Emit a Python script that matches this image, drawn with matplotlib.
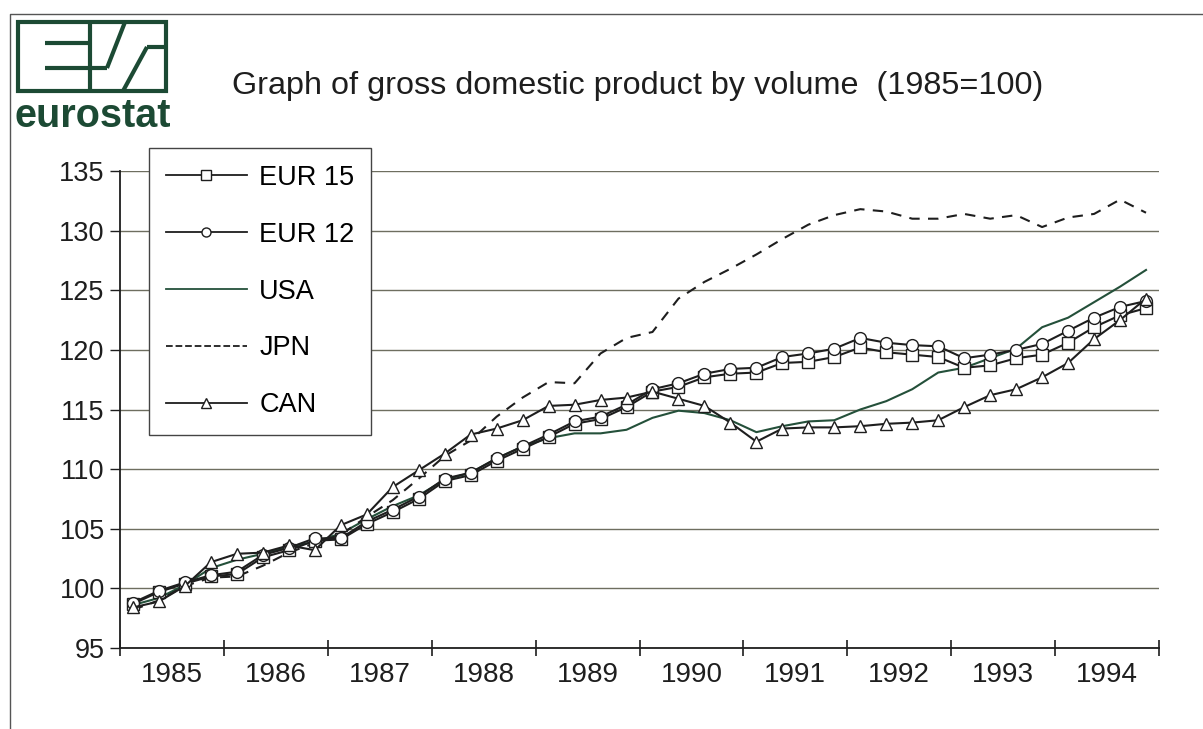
import numpy as np
import matplotlib
matplotlib.use("Agg")
import matplotlib.pyplot as plt
from matplotlib.lines import Line2D

# quarterly data, 1985 Q1 .. 1994 Q4 (index 1985=100)
years = [str(y) for y in range(1985, 1995)]
eur15 = [98.7, 99.7, 100.4, 101.0, 101.2, 102.6, 103.2, 104.0, 104.1, 105.4,
         106.4, 107.5, 109.0, 109.5, 110.7, 111.7, 112.7, 113.8, 114.2, 115.2,
         116.5, 116.9, 117.7, 118.0, 118.1, 118.9, 119.0, 119.4, 120.2, 119.8,
         119.6, 119.4, 118.5, 118.7, 119.3, 119.6, 120.6, 121.9, 122.9, 123.5]
eur12 = [98.8, 99.8, 100.5, 101.1, 101.4, 102.8, 103.4, 104.2, 104.2, 105.6,
         106.6, 107.7, 109.2, 109.7, 110.9, 111.9, 112.9, 114.0, 114.4, 115.4,
         116.7, 117.2, 118.0, 118.4, 118.5, 119.4, 119.7, 120.1, 121.0, 120.6,
         120.4, 120.3, 119.3, 119.6, 120.0, 120.5, 121.6, 122.7, 123.6, 124.1]
usa = [98.6, 99.2, 100.3, 101.7, 102.4, 102.9, 103.5, 103.9, 104.6, 105.8,
       106.9, 107.8, 109.1, 109.7, 110.9, 111.9, 112.6, 113.0, 113.0, 113.3,
       114.3, 114.9, 114.7, 114.1, 113.1, 113.6, 114.0, 114.1, 115.0, 115.7,
       116.7, 118.1, 118.5, 119.3, 120.1, 121.9, 122.7, 124.0, 125.3, 126.7]
jpn = [98.2, 99.0, 100.2, 100.9, 101.0, 101.9, 103.0, 103.8, 104.5, 106.0,
       107.4, 109.2, 111.1, 112.4, 114.4, 116.0, 117.3, 117.2, 119.7, 121.0,
       121.5, 124.3, 125.7, 126.8, 128.0, 129.3, 130.5, 131.3, 131.8, 131.6,
       131.0, 131.0, 131.4, 131.0, 131.3, 130.3, 131.1, 131.4, 132.6, 131.5]
can = [98.4, 98.9, 100.2, 102.2, 102.9, 103.0, 103.6, 103.2, 105.3, 106.2,
       108.5, 109.9, 111.3, 112.9, 113.4, 114.1, 115.3, 115.4, 115.8, 116.0,
       116.5, 115.9, 115.3, 113.9, 112.3, 113.4, 113.5, 113.5, 113.6, 113.8,
       113.9, 114.1, 115.2, 116.2, 116.7, 117.7, 118.9, 120.9, 122.5, 124.3]

FONT = "Liberation Sans"
GREEN = "#1c4a34"
INK = "#1e1e1e"

fig = plt.figure(figsize=(12.03, 7.29), dpi=100)

# decoration layer in pixel coordinates (border + eurostat logo)
deco = fig.add_axes([0, 0, 1, 1])
deco.set_xlim(0, 1203)
deco.set_ylim(729, 0)
deco.axis("off")
deco.plot([10, 10, 1203], [729, 14, 14], color="#555555", lw=1.0)
lw_logo = 3.0
deco.add_patch(plt.Rectangle((18, 22), 148, 69, fill=False, ec=GREEN, lw=lw_logo))
for xs, ys in [([45, 90], [43, 43]), ([45, 107], [68, 68]), ([90, 90], [22, 91]),
               ([107, 125], [68, 22]), ([123, 147], [91, 47]), ([147, 166], [47, 47])]:
    deco.plot(xs, ys, color=GREEN, lw=lw_logo, solid_capstyle="butt")
deco.text(14, 127, "eurostat", color=GREEN, fontsize=28.5, fontweight="bold",
          family=FONT, ha="left", va="baseline")
deco.text(232, 86, "Graph of gross domestic product by volume  (1985=100)",
          fontsize=23.3, family=FONT, color=INK, ha="left", va="center")

ax = fig.add_axes([120 / 1203, 81 / 729, 1039 / 1203, 477 / 729])
x = np.arange(len(eur15)) + 0.5

ax.plot(x, usa, color="#24503a", lw=1.5, label="USA", zorder=3)
ax.plot(x, jpn, color=INK, lw=1.5, ls=(0, (5, 4)), label="JPN", zorder=3)
mk = dict(markerfacecolor="white", markeredgecolor=INK, markeredgewidth=1.0)
ax.plot(x, eur15, color=INK, lw=1.5, marker="s", markersize=8, label="EUR 15", zorder=4, **mk)
ax.plot(x, eur12, color=INK, lw=1.5, marker="o", markersize=8.5, label="EUR 12", zorder=4, **mk)
ax.plot(x, can, color=INK, lw=1.5, marker="^", markersize=9, label="CAN", zorder=5, **mk)

ax.set_xlim(0, 40)
ax.set_ylim(95, 135)
ax.set_yticks(np.arange(95, 136, 5))
ax.yaxis.grid(True, color="#6e6e60", lw=1.0)
ax.set_axisbelow(True)
ax.spines["top"].set_visible(False)
ax.spines["right"].set_visible(False)
for s in ("left", "bottom"):
    ax.spines[s].set_color(INK)
    ax.spines[s].set_linewidth(1.3)

ax.set_xticks(np.arange(0, 41, 4))
ax.set_xticklabels([])
ax.tick_params(axis="x", which="major", direction="inout", length=12, width=1.2, color=INK)
ax.set_xticks(np.arange(2, 40, 4), minor=True)
ax.set_xticklabels(years, minor=True)
ax.tick_params(axis="x", which="minor", length=0, pad=10, labelsize=20, labelcolor=INK)
ax.tick_params(axis="y", direction="out", length=7, width=1.0, pad=4, labelsize=19.5,
               labelcolor=INK, color=INK)
for lab in ax.get_xticklabels(minor=True) + ax.get_yticklabels():
    lab.set_family(FONT)

order = ["EUR 15", "EUR 12", "USA", "JPN", "CAN"]
handles, labels = ax.get_legend_handles_labels()
hmap = dict(zip(labels, handles))
leg_handles = []
for name in order:
    h = hmap[name]
    leg_handles.append(Line2D([], [], color=h.get_color(), ls=h.get_linestyle(), lw=1.3,
                              marker=h.get_marker(), markersize=6.5,
                              markerfacecolor="white", markeredgecolor=INK))
leg = fig.legend(leg_handles, order, loc="upper left",
                 bbox_to_anchor=(149 / 1203, 1 - 148 / 729),
                 frameon=True, fancybox=False, edgecolor="#444444", framealpha=1,
                 prop={"family": FONT, "size": 19.5}, handlelength=3.0,
                 handletextpad=0.45, labelspacing=1.14, borderpad=0.62,
                 borderaxespad=0, numpoints=1)
leg.get_frame().set_linewidth(1.0)

fig.savefig("out.png", dpi=100)
